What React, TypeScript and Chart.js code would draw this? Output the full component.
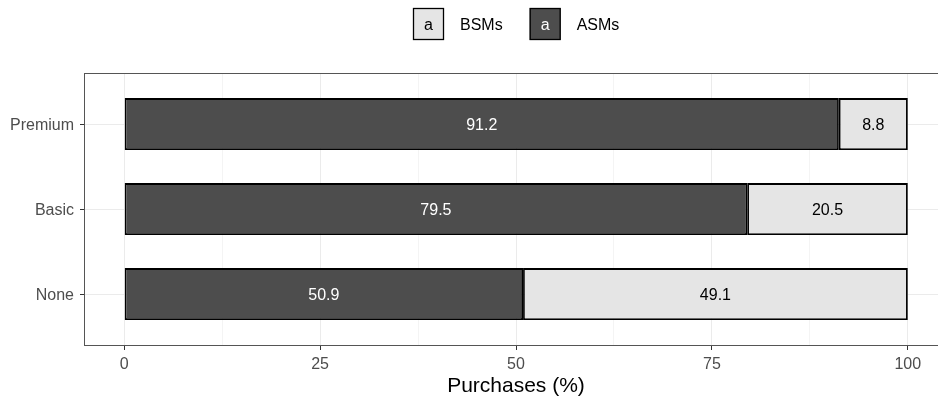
import React, { useEffect, useRef } from "react";
import { Chart, registerables } from "chart.js";

Chart.register(...registerables);

// Purchase shares by membership tier
const categories = ["None", "Basic", "Premium"];
const asmValues = [50.9, 79.5, 91.2];
const bsmValues = [49.1, 20.5, 8.8];
const xMajorTicks = [0, 25, 50, 75, 100];
const xMinorTicks = [12.5, 37.5, 62.5, 87.5];
const legendOrder = ["BSMs", "ASMs"];

const FONT = "'Liberation Sans', Arial, Helvetica, sans-serif";
const DARK = "#4D4D4D";
const LIGHT = "#E5E5E5";
const fills: Record<string, string> = { ASMs: DARK, BSMs: LIGHT };
const inkOn: Record<string, string> = { ASMs: "#FFFFFF", BSMs: "#000000" };

const panelBorder = {
  id: "panelBorder",
  afterDatasetsDraw(chart: any) {
    const { ctx, chartArea } = chart;
    ctx.save();
    ctx.strokeStyle = "#555555";
    ctx.lineWidth = 1;
    ctx.strokeRect(
      Math.round(chartArea.left) - 0.5,
      Math.round(chartArea.top) + 0.5,
      Math.round(chartArea.right - chartArea.left),
      Math.round(chartArea.bottom - chartArea.top)
    );
    ctx.restore();
  },
};

const barLabels = {
  id: "barLabels",
  afterDatasetsDraw(chart: any) {
    const { ctx } = chart;
    ctx.save();
    ctx.font = `16px ${FONT}`;
    ctx.textAlign = "center";
    ctx.textBaseline = "middle";
    chart.data.datasets.forEach((ds: any, i: number) => {
      const meta = chart.getDatasetMeta(i);
      ctx.fillStyle = inkOn[ds.label];
      meta.data.forEach((bar: any, j: number) => {
        const { x, base, y } = bar.getProps(["x", "base", "y"], true);
        const v = ds.data[j].x as number;
        ctx.fillText(v.toFixed(1), (x + base) / 2, y + 2);
      });
    });
    ctx.restore();
  },
};

const topLegend = {
  id: "topLegend",
  afterDraw(chart: any) {
    const { ctx, chartArea } = chart;
    const keyW = 31;
    const keyH = 32;
    const textGap = 16;
    const itemGap = 27;
    const top = 8;
    ctx.save();
    ctx.font = `16px ${FONT}`;
    const widths = legendOrder.map((l) => ctx.measureText(l).width);
    const total =
      widths.reduce((s, w) => s + keyW + textGap + w, 0) + itemGap * (legendOrder.length - 1);
    let x = Math.round((chartArea.left + chartArea.right) / 2 - total / 2);
    legendOrder.forEach((label, i) => {
      ctx.fillStyle = fills[label];
      ctx.fillRect(x, top, keyW, keyH);
      ctx.strokeStyle = "#000000";
      ctx.lineWidth = 1.3;
      ctx.strokeRect(x + 0.5, top + 0.5, keyW - 1, keyH - 1);
      ctx.fillStyle = inkOn[label];
      ctx.textAlign = "center";
      ctx.textBaseline = "middle";
      ctx.fillText("a", x + keyW / 2, top + keyH / 2 + 1.5);
      ctx.fillStyle = "#000000";
      ctx.textAlign = "left";
      ctx.fillText(label, x + keyW + textGap, top + keyH / 2 + 2);
      x += keyW + textGap + widths[i] + itemGap;
    });
    ctx.restore();
  },
};

export default function App() {
  const canvasRef = useRef<HTMLCanvasElement | null>(null);

  useEffect(() => {
    if (!canvasRef.current) return;
    Chart.defaults.font.family = FONT;
    const toPoints = (vals: number[]) => vals.map((v, i) => ({ x: v, y: i + 1 }));
    const chart = new Chart(canvasRef.current, {
      type: "bar",
      data: {
        datasets: [
          {
            label: "ASMs",
            data: toPoints(asmValues),
            backgroundColor: DARK,
            borderColor: "#000000",
            borderWidth: 1.8,
            borderSkipped: false,
            categoryPercentage: 0.61,
            barPercentage: 1,
          },
          {
            label: "BSMs",
            data: toPoints(bsmValues),
            backgroundColor: LIGHT,
            borderColor: "#000000",
            borderWidth: 1.8,
            borderSkipped: false,
            categoryPercentage: 0.61,
            barPercentage: 1,
          },
        ],
      },
      options: {
        indexAxis: "y",
        responsive: false,
        animation: false,
        devicePixelRatio: 1,
        layout: { padding: { top: 73, right: 3, bottom: 0, left: 0 } },
        plugins: {
          legend: { display: false },
          tooltip: { enabled: false },
        },
        scales: {
          x: {
            type: "linear",
            stacked: true,
            min: -5,
            max: 105,
            afterBuildTicks(scale: any) {
              scale.ticks = [...xMajorTicks, ...xMinorTicks]
                .sort((a, b) => a - b)
                .map((v) => ({ value: v }));
            },
            afterFit(scale: any) {
              scale.height = 56;
            },
            border: { display: false },
            grid: {
              color: (c: any) => (xMajorTicks.includes(c.tick?.value) ? "#EBEBEB" : "#F4F4F4"),
              tickColor: (c: any) =>
                xMajorTicks.includes(c.tick?.value) ? "#333333" : "rgba(0,0,0,0)",
              tickLength: 5,
              tickWidth: 1,
            },
            ticks: {
              autoSkip: false,
              maxRotation: 0,
              padding: 5,
              color: "#4D4D4D",
              font: { size: 16 },
              callback: (v: any) => (xMajorTicks.includes(Number(v)) ? String(v) : ""),
            },
            title: {
              display: true,
              text: "Purchases (%)",
              color: "#000000",
              font: { size: 21 },
              padding: { top: 0, bottom: 2 },
            },
          },
          y: {
            type: "linear",
            stacked: true,
            offset: false,
            min: 0.4,
            max: 3.6,
            afterBuildTicks(scale: any) {
              scale.ticks = categories.map((_, i) => ({ value: i + 1 }));
            },
            afterFit(scale: any) {
              scale.width = 85;
            },
            border: { display: false },
            grid: {
              offset: false,
              color: "#EBEBEB",
              tickColor: "#333333",
              tickLength: 5,
              tickWidth: 1,
            },
            ticks: {
              autoSkip: false,
              padding: 6,
              labelOffset: 2,
              color: "#4D4D4D",
              font: { size: 16 },
              callback: (v: any) => categories[Number(v) - 1] ?? "",
            },
          },
        },
      },
      plugins: [panelBorder, barLabels, topLegend],
    } as any);
    return () => chart.destroy();
  }, []);

  return (
    <div
      style={{
        position: "fixed",
        left: 0,
        top: 0,
        width: 938,
        height: 401,
        overflow: "hidden",
        background: "#FFFFFF",
      }}
    >
      <canvas ref={canvasRef} width={950} height={401} style={{ display: "block" }} />
    </div>
  );
}
